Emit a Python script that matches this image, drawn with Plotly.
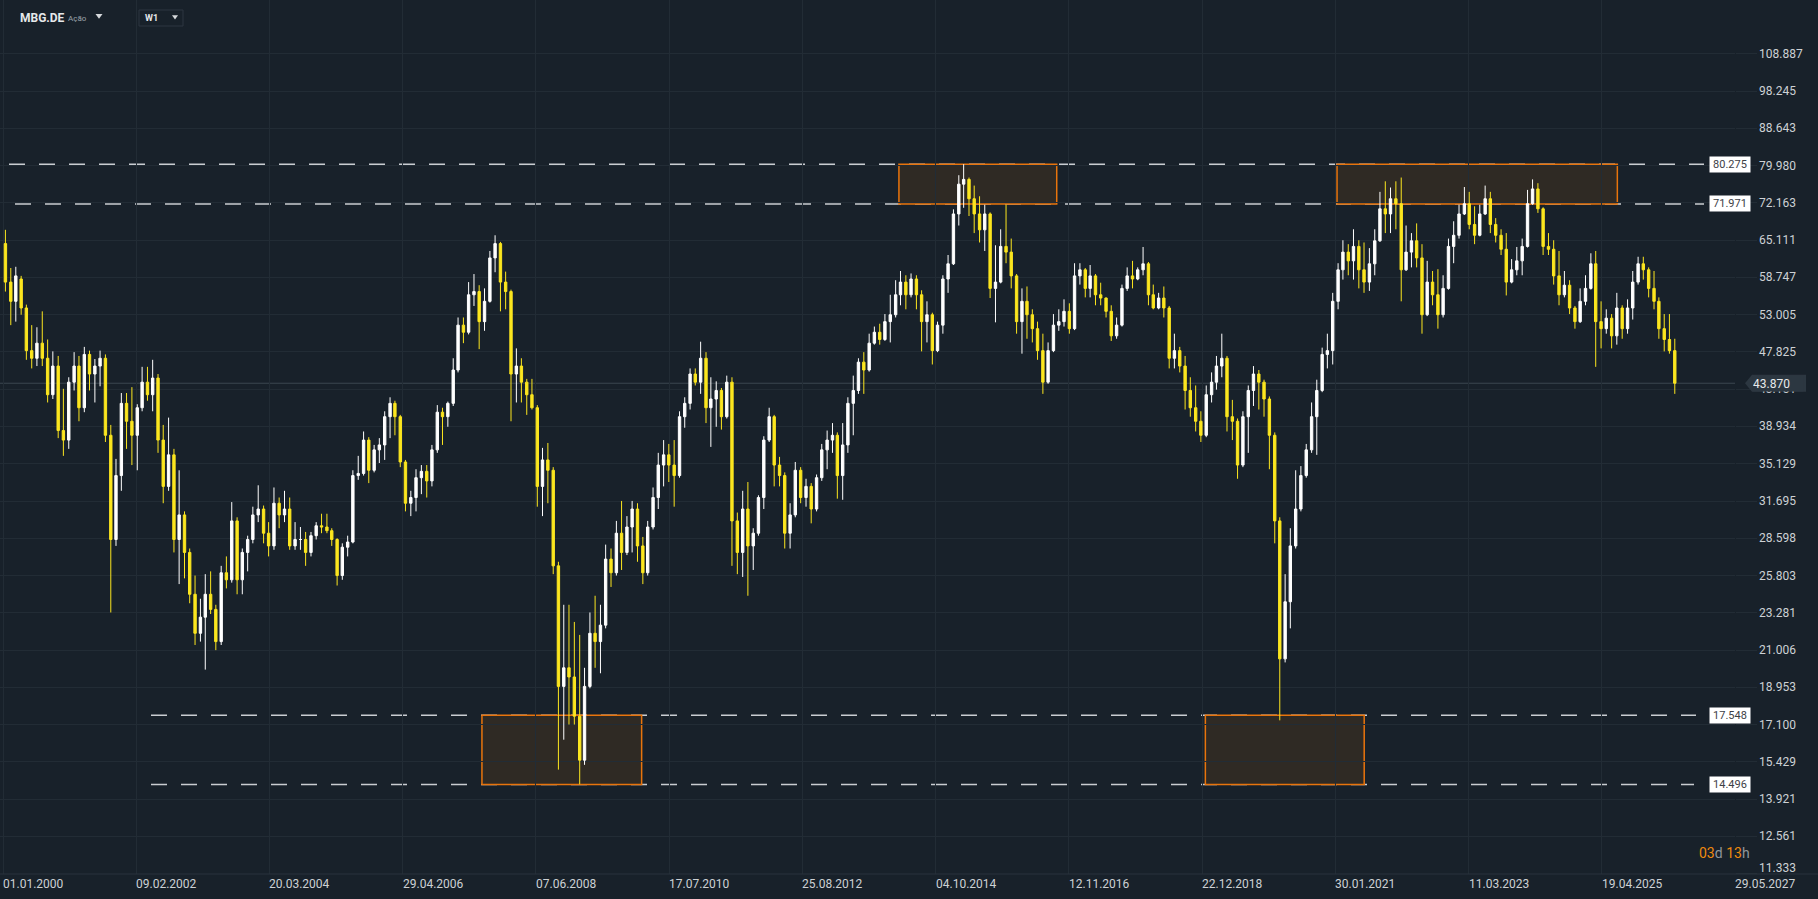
import math
import pandas as pd
import plotly.graph_objects as go

# ---------------- data (monthly OHLC) ----------------
open_ = [
    64.5, 58.0, 55.0, 58.5, 54.0, 48.0, 47.0, 49.0, 47.0, 42.5, 46.0, 38.5,
    37.5, 44.0, 46.0, 41.0, 47.5, 45.0, 46.0, 47.0, 38.0, 28.5, 34.0, 41.5,
    39.5, 38.0, 41.0, 44.0, 42.5, 44.5, 37.5, 33.0, 36.0, 28.5, 30.5, 27.5,
    24.5, 22.0, 23.0, 24.5, 23.5, 21.5, 26.0, 25.5, 30.0, 25.5, 27.5, 28.5,
    30.5, 31.0, 29.0, 28.0, 31.5, 30.5, 31.0, 28.0, 28.5, 28.5, 27.5, 28.8,
    29.6, 29.5, 29.2, 28.5, 25.8, 27.9, 28.3, 34.0, 34.2, 37.5, 34.5, 36.5,
    37.0, 40.0, 41.5, 40.0, 35.3, 31.5, 32.0, 33.8, 34.4, 33.5, 36.5, 40.5,
    40.0, 41.5, 45.5, 51.5, 50.5, 56.0, 56.5, 52.0, 55.0, 62.0, 64.5, 58.0,
    56.5, 45.0, 46.0, 44.0, 42.5, 41.0, 33.0, 35.5, 34.5, 26.5, 19.0, 20.0,
    19.5, 17.5, 15.5, 19.0, 22.0, 21.5, 22.5, 27.0, 26.0, 29.0, 27.5, 29.5,
    31.0, 28.0, 26.0, 29.5, 32.0, 35.0, 36.0, 35.0, 34.0, 40.0, 41.5, 45.0,
    44.0, 47.0, 41.0, 42.0, 43.0, 40.0, 44.0, 30.0, 27.5, 31.0, 28.0, 29.0,
    32.0, 37.5, 40.0, 35.0, 34.0, 29.0, 30.5, 34.5, 32.0, 33.0, 31.0, 33.8,
    36.5, 37.5, 38.0, 34.0, 37.0, 41.5, 43.0, 46.5, 45.5, 49.0, 50.5, 49.5,
    52.0, 53.0, 56.0, 58.0, 56.0, 58.5, 56.0, 52.0, 53.0, 48.0, 51.5, 58.5,
    61.0, 70.0, 76.0, 77.0, 73.0, 70.0, 67.0, 70.0, 57.0, 58.0, 64.0, 63.0,
    59.0, 52.0, 55.0, 53.0, 51.0, 48.0, 44.0, 48.0, 51.5, 52.0, 53.5, 51.0,
    59.0, 60.0, 57.0, 59.0, 56.0, 55.5, 53.5, 50.0, 51.5, 57.0, 59.0, 58.5,
    60.0, 61.0, 56.0, 54.0, 55.5, 54.0, 47.0, 48.0, 46.0, 43.0, 41.0, 39.5,
    38.0, 42.5, 44.0, 46.0, 47.0, 40.0, 39.5, 35.0, 40.0, 43.0, 45.0, 44.0,
    42.0, 38.0, 30.0, 20.5, 24.0, 28.0, 31.0, 34.0, 36.5, 40.0, 43.0, 47.5,
    48.0, 55.0, 60.0, 63.0, 61.5, 64.0, 60.0, 58.0, 61.0, 65.0, 71.0, 70.0,
    73.0, 72.0, 60.0, 63.0, 65.0, 62.0, 53.0, 58.0, 56.0, 53.0, 57.0, 64.0,
    66.0, 70.0, 72.0, 68.0, 66.0, 70.0, 73.0, 68.0, 66.0, 63.5, 58.0, 60.0,
    61.5, 64.0, 72.0, 75.0, 71.0, 64.0, 63.5, 59.0, 56.0, 57.5, 54.0, 52.0,
    55.0, 57.0, 61.0, 52.0, 51.0, 52.5, 50.0, 54.0, 51.0, 54.0, 58.0, 61.0,
    60.0, 57.0, 55.0, 51.0, 49.5, 48.0,
]
high = [
    67.0, 60.3, 60.5, 59.0, 54.5, 51.5, 51.2, 53.5, 49.5, 47.9, 47.3, 43.2,
    44.6, 47.8, 47.3, 48.5, 48.0, 46.9, 48.0, 47.5, 39.1, 35.6, 42.7, 42.7,
    43.4, 41.4, 45.9, 45.9, 46.8, 45.0, 39.1, 39.9, 36.6, 34.5, 30.8, 27.8,
    25.8, 24.2, 25.9, 26.1, 23.8, 26.5, 27.2, 31.6, 30.3, 27.8, 28.8, 31.2,
    33.1, 31.3, 29.9, 32.9, 32.0, 32.6, 32.0, 29.9, 29.5, 29.1, 29.1, 29.9,
    30.6, 30.6, 29.4, 28.6, 28.2, 28.8, 34.5, 35.9, 38.4, 37.8, 37.0, 37.7,
    40.6, 42.2, 41.8, 40.2, 35.5, 32.6, 34.6, 35.0, 35.0, 37.0, 41.3, 41.0,
    41.7, 47.0, 52.6, 52.6, 58.0, 59.3, 57.5, 57.0, 63.2, 66.0, 64.8, 59.7,
    56.8, 48.3, 47.0, 44.4, 44.4, 41.3, 36.7, 37.2, 34.8, 26.8, 23.8, 23.8,
    22.7, 21.9, 20.0, 23.3, 24.4, 23.8, 28.1, 27.8, 30.0, 31.7, 30.4, 31.7,
    31.5, 28.7, 30.0, 32.9, 36.2, 37.5, 37.1, 37.5, 40.6, 42.2, 45.7, 45.7,
    49.2, 47.8, 44.6, 44.1, 43.3, 44.8, 44.6, 30.7, 32.6, 33.4, 29.4, 32.2,
    37.9, 41.0, 40.2, 35.8, 34.3, 31.5, 35.3, 34.8, 33.7, 33.3, 34.1, 37.1,
    38.5, 39.3, 38.3, 39.3, 42.2, 44.8, 47.0, 47.8, 50.3, 51.3, 51.7, 53.1,
    56.0, 58.3, 59.8, 59.1, 59.4, 59.1, 56.7, 55.0, 53.3, 52.0, 59.1, 62.5,
    70.9, 77.9, 80.3, 77.4, 75.7, 73.5, 71.8, 70.3, 64.2, 67.1, 71.8, 65.4,
    59.3, 57.0, 57.3, 53.8, 52.0, 50.3, 49.1, 53.1, 53.8, 55.3, 54.7, 61.1,
    61.1, 60.3, 60.8, 59.3, 57.9, 55.6, 54.4, 52.6, 57.6, 60.4, 61.5, 60.4,
    63.9, 61.3, 57.6, 56.3, 57.3, 54.3, 50.3, 48.5, 47.3, 44.6, 43.6, 40.6,
    43.6, 45.2, 47.3, 50.3, 47.3, 41.9, 39.8, 40.6, 43.6, 46.0, 45.5, 44.3,
    42.3, 38.3, 30.3, 25.9, 29.4, 34.5, 34.9, 37.1, 41.6, 44.3, 48.4, 50.3,
    56.3, 61.1, 65.1, 64.4, 67.1, 65.1, 64.7, 63.7, 67.1, 74.4, 76.6, 75.3,
    76.6, 77.4, 67.8, 66.4, 68.2, 64.4, 61.5, 59.8, 60.1, 59.1, 65.4, 68.6,
    71.8, 75.4, 74.4, 71.5, 71.8, 75.7, 74.4, 69.2, 67.1, 66.4, 61.8, 63.9,
    65.4, 74.8, 77.0, 76.2, 71.3, 66.4, 65.1, 63.2, 59.8, 58.3, 54.3, 57.0,
    59.1, 62.8, 63.2, 55.0, 53.8, 53.1, 56.3, 54.4, 55.3, 59.8, 62.2, 62.2,
    60.4, 59.8, 55.6, 53.1, 53.1, 49.6,
]
low = [
    56.5, 51.5, 52.0, 53.0, 46.8, 45.7, 46.0, 46.0, 41.6, 42.0, 37.7, 35.9,
    36.6, 43.0, 39.5, 40.5, 43.0, 41.6, 43.5, 37.3, 23.3, 28.0, 32.6, 36.6,
    35.0, 34.5, 40.6, 41.8, 40.6, 36.2, 31.5, 32.6, 27.5, 25.2, 25.6, 23.9,
    21.3, 21.5, 19.9, 23.2, 21.0, 21.3, 24.9, 25.3, 24.5, 24.5, 26.1, 28.2,
    29.9, 28.2, 27.2, 27.7, 29.4, 29.9, 27.7, 27.7, 27.7, 26.5, 27.2, 28.5,
    29.0, 29.0, 28.0, 25.1, 25.5, 27.2, 28.2, 33.6, 34.0, 33.3, 34.3, 35.2,
    35.5, 37.7, 38.0, 34.8, 30.8, 30.4, 30.8, 32.3, 32.0, 33.0, 36.2, 37.0,
    38.9, 41.2, 45.2, 49.0, 50.2, 54.3, 48.2, 50.7, 54.8, 59.6, 53.5, 53.8,
    39.5, 41.6, 41.6, 40.2, 40.8, 31.2, 30.4, 31.5, 25.9, 15.1, 16.4, 17.1,
    17.1, 14.5, 15.3, 18.9, 20.0, 19.7, 22.3, 25.0, 25.8, 26.2, 27.3, 27.5,
    26.8, 25.2, 25.8, 29.3, 31.0, 33.0, 33.4, 31.2, 33.8, 38.8, 40.8, 43.6,
    42.6, 39.3, 36.8, 38.9, 38.6, 39.8, 26.5, 25.9, 25.7, 24.4, 26.2, 28.8,
    31.0, 37.3, 33.0, 33.0, 27.8, 27.8, 30.3, 31.5, 31.2, 29.8, 30.8, 33.5,
    34.6, 36.2, 31.9, 31.8, 36.2, 38.0, 42.6, 42.6, 45.3, 48.8, 48.8, 49.3,
    49.1, 52.6, 54.4, 53.8, 55.6, 53.8, 47.9, 49.1, 46.2, 47.8, 50.3, 56.3,
    60.8, 67.8, 71.2, 69.6, 66.4, 64.7, 63.2, 55.5, 51.9, 57.8, 61.1, 57.0,
    50.3, 47.6, 49.6, 49.1, 46.8, 42.6, 43.8, 47.8, 50.7, 51.3, 50.3, 50.8,
    57.6, 55.6, 55.6, 54.4, 54.4, 52.6, 49.3, 49.6, 51.3, 56.6, 57.0, 58.3,
    59.1, 54.4, 53.8, 53.8, 52.6, 45.7, 45.7, 45.2, 40.8, 40.0, 38.4, 37.3,
    37.8, 41.6, 43.1, 44.6, 38.4, 37.5, 33.7, 34.8, 36.2, 41.2, 40.8, 40.0,
    34.6, 28.2, 17.3, 20.3, 22.3, 27.8, 30.8, 33.8, 36.2, 36.0, 42.8, 45.7,
    46.2, 53.8, 58.4, 59.1, 58.4, 57.0, 56.3, 56.6, 59.1, 64.8, 66.4, 66.4,
    67.1, 55.0, 59.8, 60.4, 60.4, 50.3, 52.8, 54.4, 51.0, 52.6, 56.8, 61.1,
    65.4, 69.8, 67.1, 64.4, 65.8, 69.8, 66.4, 64.7, 62.5, 55.9, 57.8, 59.1,
    59.1, 63.8, 71.8, 70.2, 62.5, 62.5, 57.6, 54.4, 55.6, 53.1, 51.0, 51.8,
    54.4, 56.8, 45.9, 48.3, 50.3, 48.3, 48.8, 49.6, 50.3, 52.3, 57.6, 58.4,
    55.6, 53.8, 49.6, 47.9, 47.6, 42.6,
]
close = [
    58.0, 55.0, 59.0, 54.0, 48.0, 47.0, 49.0, 47.0, 42.5, 46.0, 38.5, 37.5,
    44.0, 46.0, 41.0, 47.5, 45.0, 46.0, 47.0, 38.0, 28.5, 34.0, 41.5, 39.5,
    38.0, 41.0, 44.0, 42.5, 44.5, 37.5, 33.0, 36.0, 28.5, 30.5, 27.5, 24.5,
    22.0, 23.0, 24.5, 23.5, 21.5, 26.0, 25.5, 30.0, 25.5, 27.5, 28.5, 30.5,
    31.0, 29.0, 28.0, 31.5, 30.5, 31.0, 28.0, 28.5, 28.5, 27.5, 28.8, 29.6,
    29.5, 29.2, 28.5, 25.8, 27.9, 28.3, 34.0, 34.2, 37.5, 34.5, 36.5, 37.0,
    40.0, 41.5, 40.0, 35.3, 31.5, 32.0, 33.8, 34.4, 33.5, 36.5, 40.5, 40.0,
    41.5, 45.5, 51.5, 50.5, 56.0, 56.5, 52.0, 55.0, 62.0, 64.5, 58.0, 56.5,
    45.0, 46.0, 44.0, 42.5, 41.0, 33.0, 35.5, 34.5, 26.5, 19.0, 20.0, 19.5,
    17.5, 15.5, 19.0, 22.0, 21.5, 22.5, 27.0, 26.0, 29.0, 27.5, 29.5, 31.0,
    28.0, 26.0, 29.5, 32.0, 35.0, 36.0, 35.0, 34.0, 40.0, 41.5, 45.0, 44.0,
    47.0, 41.0, 42.0, 43.0, 40.0, 44.0, 30.0, 27.5, 31.0, 28.0, 29.0, 32.0,
    37.5, 40.0, 35.0, 34.0, 29.0, 30.5, 34.5, 32.0, 33.0, 31.0, 33.8, 36.5,
    37.5, 38.0, 34.0, 37.0, 41.5, 43.0, 46.5, 45.5, 49.0, 50.5, 49.5, 52.0,
    53.0, 56.0, 58.0, 56.0, 58.5, 56.0, 52.0, 53.0, 48.0, 51.5, 58.5, 61.0,
    70.0, 76.0, 77.0, 73.0, 70.0, 67.0, 70.0, 57.0, 58.0, 64.0, 63.0, 59.0,
    52.0, 55.0, 53.0, 51.0, 48.0, 44.0, 48.0, 51.5, 52.0, 53.5, 51.0, 59.0,
    60.0, 57.0, 59.0, 56.0, 55.5, 53.5, 50.0, 51.5, 57.0, 59.0, 58.5, 60.0,
    61.0, 56.0, 54.0, 55.5, 54.0, 47.0, 48.0, 46.0, 43.0, 41.0, 39.5, 38.0,
    42.5, 44.0, 46.0, 47.0, 40.0, 39.5, 35.0, 40.0, 43.0, 45.0, 44.0, 42.0,
    38.0, 30.0, 20.5, 24.0, 28.0, 31.0, 34.0, 36.5, 40.0, 43.0, 47.5, 48.0,
    55.0, 60.0, 63.0, 61.5, 64.0, 60.0, 58.0, 61.0, 65.0, 71.0, 70.0, 73.0,
    72.0, 60.0, 63.0, 65.0, 62.0, 53.0, 58.0, 56.0, 53.0, 57.0, 64.0, 66.0,
    70.0, 72.0, 68.0, 66.0, 70.0, 73.0, 68.0, 66.0, 63.5, 58.0, 60.0, 61.5,
    64.0, 72.0, 75.0, 71.0, 64.0, 63.5, 59.0, 56.0, 57.5, 54.0, 52.0, 55.0,
    57.0, 61.0, 52.0, 51.0, 52.5, 50.0, 54.0, 51.0, 54.0, 58.0, 61.0, 60.0,
    57.0, 55.0, 51.0, 49.5, 48.0, 43.87,
]
dates = pd.date_range("2000-01-01", periods=len(close), freq="MS") + pd.Timedelta(days=14)

y_tick_values = [108.887, 98.245, 88.643, 79.980, 72.163, 65.111, 58.747, 53.005,
                 47.825, 43.151, 38.934, 35.129, 31.695, 28.598, 25.803, 23.281,
                 21.006, 18.953, 17.100, 15.429, 13.921, 12.561, 11.333]
x_tick_dates = ["2000-01-01", "2002-02-09", "2004-03-20", "2006-04-29", "2008-06-07",
                "2010-07-17", "2012-08-25", "2014-10-04", "2016-11-12", "2018-12-22",
                "2021-01-30", "2023-03-11", "2025-04-19", "2027-05-29"]
x_tick_labels = ["01.01.2000", "09.02.2002", "20.03.2004", "29.04.2006", "07.06.2008",
                 "17.07.2010", "25.08.2012", "04.10.2014", "12.11.2016", "22.12.2018",
                 "30.01.2021", "11.03.2023", "19.04.2025", "29.05.2027"]

levels = [80.275, 71.971, 17.548, 14.496]
zone_start = ["2014-03-06", "2021-02-09", "2007-07-31", "2019-01-10"]
zone_end = ["2016-09-03", "2025-07-18", "2010-02-08", "2021-07-16"]
zone_low = [71.971, 71.971, 14.496, 14.496]
zone_high = [80.275, 80.275, 17.548, 17.548]
last_price = 43.870

# ---------------- styling / layout geometry ----------------
W, H = 1818, 899
ML, MR, MT, MB = 0, 83, 0, 25
PW, PH = W - ML - MR, H - MT - MB
BG = "#18212a"
GRID = "#222c35"
TXT = "#cdd1d5"
UP = "#ffffff"
DOWN = "#fce61f"
ORANGE = "#e8740c"
LABEL_BG = "#2c3741"
FONT = "Roboto"


def px(x):
    return x / PW


def py(y):
    return 1 - y / PH


fig = go.Figure()
fig.add_trace(go.Candlestick(
    x=dates, open=open_, high=high, low=low, close=close,
    increasing=dict(line=dict(color=UP, width=1), fillcolor=UP),
    decreasing=dict(line=dict(color=DOWN, width=1), fillcolor=DOWN),
    whiskerwidth=0, hoverinfo="skip", showlegend=False,
))

shapes = []
# zones
for x0, x1, lo, hi in zip(zone_start, zone_end, zone_low, zone_high):
    shapes.append(dict(type="rect", xref="x", yref="y", x0=x0, x1=x1, y0=lo, y1=hi,
                       fillcolor="#2f2a24", line=dict(color=ORANGE, width=1.5),
                       layer="below"))
# level dashed lines
level_x0 = [9, 15, 151, 151]
level_x1 = [1704, 1704, 1696, 1694]
for lv, a, b in zip(levels, level_x0, level_x1):
    shapes.append(dict(type="line", xref="paper", yref="y", x0=px(a), x1=px(b), y0=lv, y1=lv,
                       line=dict(color="#c9cdd1", width=1.5, dash="16px,14px"), layer="between"))
# current price line
shapes.append(dict(type="line", xref="paper", yref="y", x0=0, x1=1, y0=last_price, y1=last_price,
                   line=dict(color="#3c4751", width=1), layer="between"))
# price label arrow
shapes.append(dict(type="path", xref="paper", yref="y", xsizemode="pixel", ysizemode="pixel",
                   xanchor=px(1745), yanchor=last_price,
                   path="M0,0 L7,8.5 L61,8.5 L61,-8.5 L7,-8.5 Z",
                   fillcolor=LABEL_BG, line=dict(width=0), layer="above"))
# x-axis bottom line
shapes.append(dict(type="line", xref="paper", yref="paper", x0=0, x1=W / PW, y0=0, y1=0,
                   line=dict(color="#29333c", width=1), layer="above"))
# W1 box
shapes.append(dict(type="rect", xref="paper", yref="paper", x0=px(139), x1=px(183),
                   y0=py(26), y1=py(10), line=dict(color="#2c3640", width=1),
                   fillcolor=BG, layer="above"))
# dropdown triangles
for tx, ty, s in [(99, 16, 3.5), (175, 17, 3)]:
    shapes.append(dict(type="path", xref="paper", yref="paper", xsizemode="pixel", ysizemode="pixel",
                       xanchor=px(tx), yanchor=py(ty),
                       path=f"M{-s},{s*0.6} L{s},{s*0.6} L0,{-s*0.8} Z",
                       fillcolor="#d6d9dc", line=dict(width=0), layer="above"))

ann = []
# y tick labels
for v in y_tick_values:
    ann.append(dict(xref="paper", yref="y", x=px(1757), y=math.log10(v), xanchor="left",
                    yanchor="middle", text=f"{v:.3f}", showarrow=False,
                    yshift=6 if v == y_tick_values[-1] else 0,
                    font=dict(family=FONT, size=12, color=TXT)))
# x tick labels
for d, t in zip(x_tick_dates, x_tick_labels):
    ann.append(dict(xref="x", yref="paper", x=d, y=0, xanchor="left", yanchor="top",
                    yshift=-1, xshift=-2, text=t, showarrow=False,
                    font=dict(family=FONT, size=12, color=TXT)))
# level labels
for lv in levels:
    ann.append(dict(xref="paper", yref="y", x=px(1730), y=math.log10(lv), xanchor="center",
                    yanchor="middle", text=f"{lv:.3f}", showarrow=False, bgcolor="#ffffff",
                    width=38, height=13, borderpad=1,
                    font=dict(family=FONT, size=11, color="#3d4146")))
# current price label (its box covers the tick label underneath, as in the original)
ann.append(dict(xref="paper", yref="y", x=px(1752), y=math.log10(last_price), xanchor="left",
                yanchor="middle", text=f"{last_price:.3f}", showarrow=False, align="left",
                bgcolor=LABEL_BG, width=50, height=15, borderpad=0,
                font=dict(family=FONT, size=12, color="#e8eaec")))
# countdown
ann.append(dict(xref="paper", yref="paper", x=px(1697), y=py(853), xanchor="left", yanchor="middle",
                text='<span style="color:#ef8a0e">03</span>d <span style="color:#ef8a0e">13</span>h',
                showarrow=False, font=dict(family=FONT, size=14, color="#8f969c")))
# toolbar texts
ann.append(dict(xref="paper", yref="paper", x=px(18), y=py(18), xanchor="left", yanchor="middle",
                text="<b>MBG.DE</b>", showarrow=False, font=dict(family=FONT, size=12, color="#e6e8ea")))
ann.append(dict(xref="paper", yref="paper", x=px(66), y=py(19), xanchor="left", yanchor="middle",
                text="Ação", showarrow=False, font=dict(family=FONT, size=8, color="#9ba3aa")))
ann.append(dict(xref="paper", yref="paper", x=px(143), y=py(18), xanchor="left", yanchor="middle",
                text="<b>W1</b>", showarrow=False, font=dict(family=FONT, size=9, color="#e6e8ea")))

ymin, ymax = 11.32, 126.35
fig.update_layout(
    width=W, height=H,
    margin=dict(l=ML, r=MR, t=MT, b=MB, pad=0),
    paper_bgcolor=BG, plot_bgcolor=BG,
    showlegend=False, hovermode=False,
    font=dict(family=FONT, color=TXT),
    shapes=shapes, annotations=ann,
    xaxis=dict(type="date", range=["1999-12-14 16:00", "2027-05-29 00:00"],
               rangeslider=dict(visible=False), tickvals=x_tick_dates, showticklabels=False,
               showgrid=True, gridcolor=GRID, gridwidth=1, zeroline=False, showline=False,
               ticks="", fixedrange=True),
    yaxis=dict(type="log", range=[math.log10(ymin), math.log10(ymax)], side="right",
               tickvals=y_tick_values, showticklabels=False, showgrid=True, gridcolor=GRID,
               gridwidth=1, zeroline=False, showline=False, ticks="outside", ticklen=21,
               tickcolor=GRID, tickwidth=1, fixedrange=True),
)

fig.write_html("out.html")
